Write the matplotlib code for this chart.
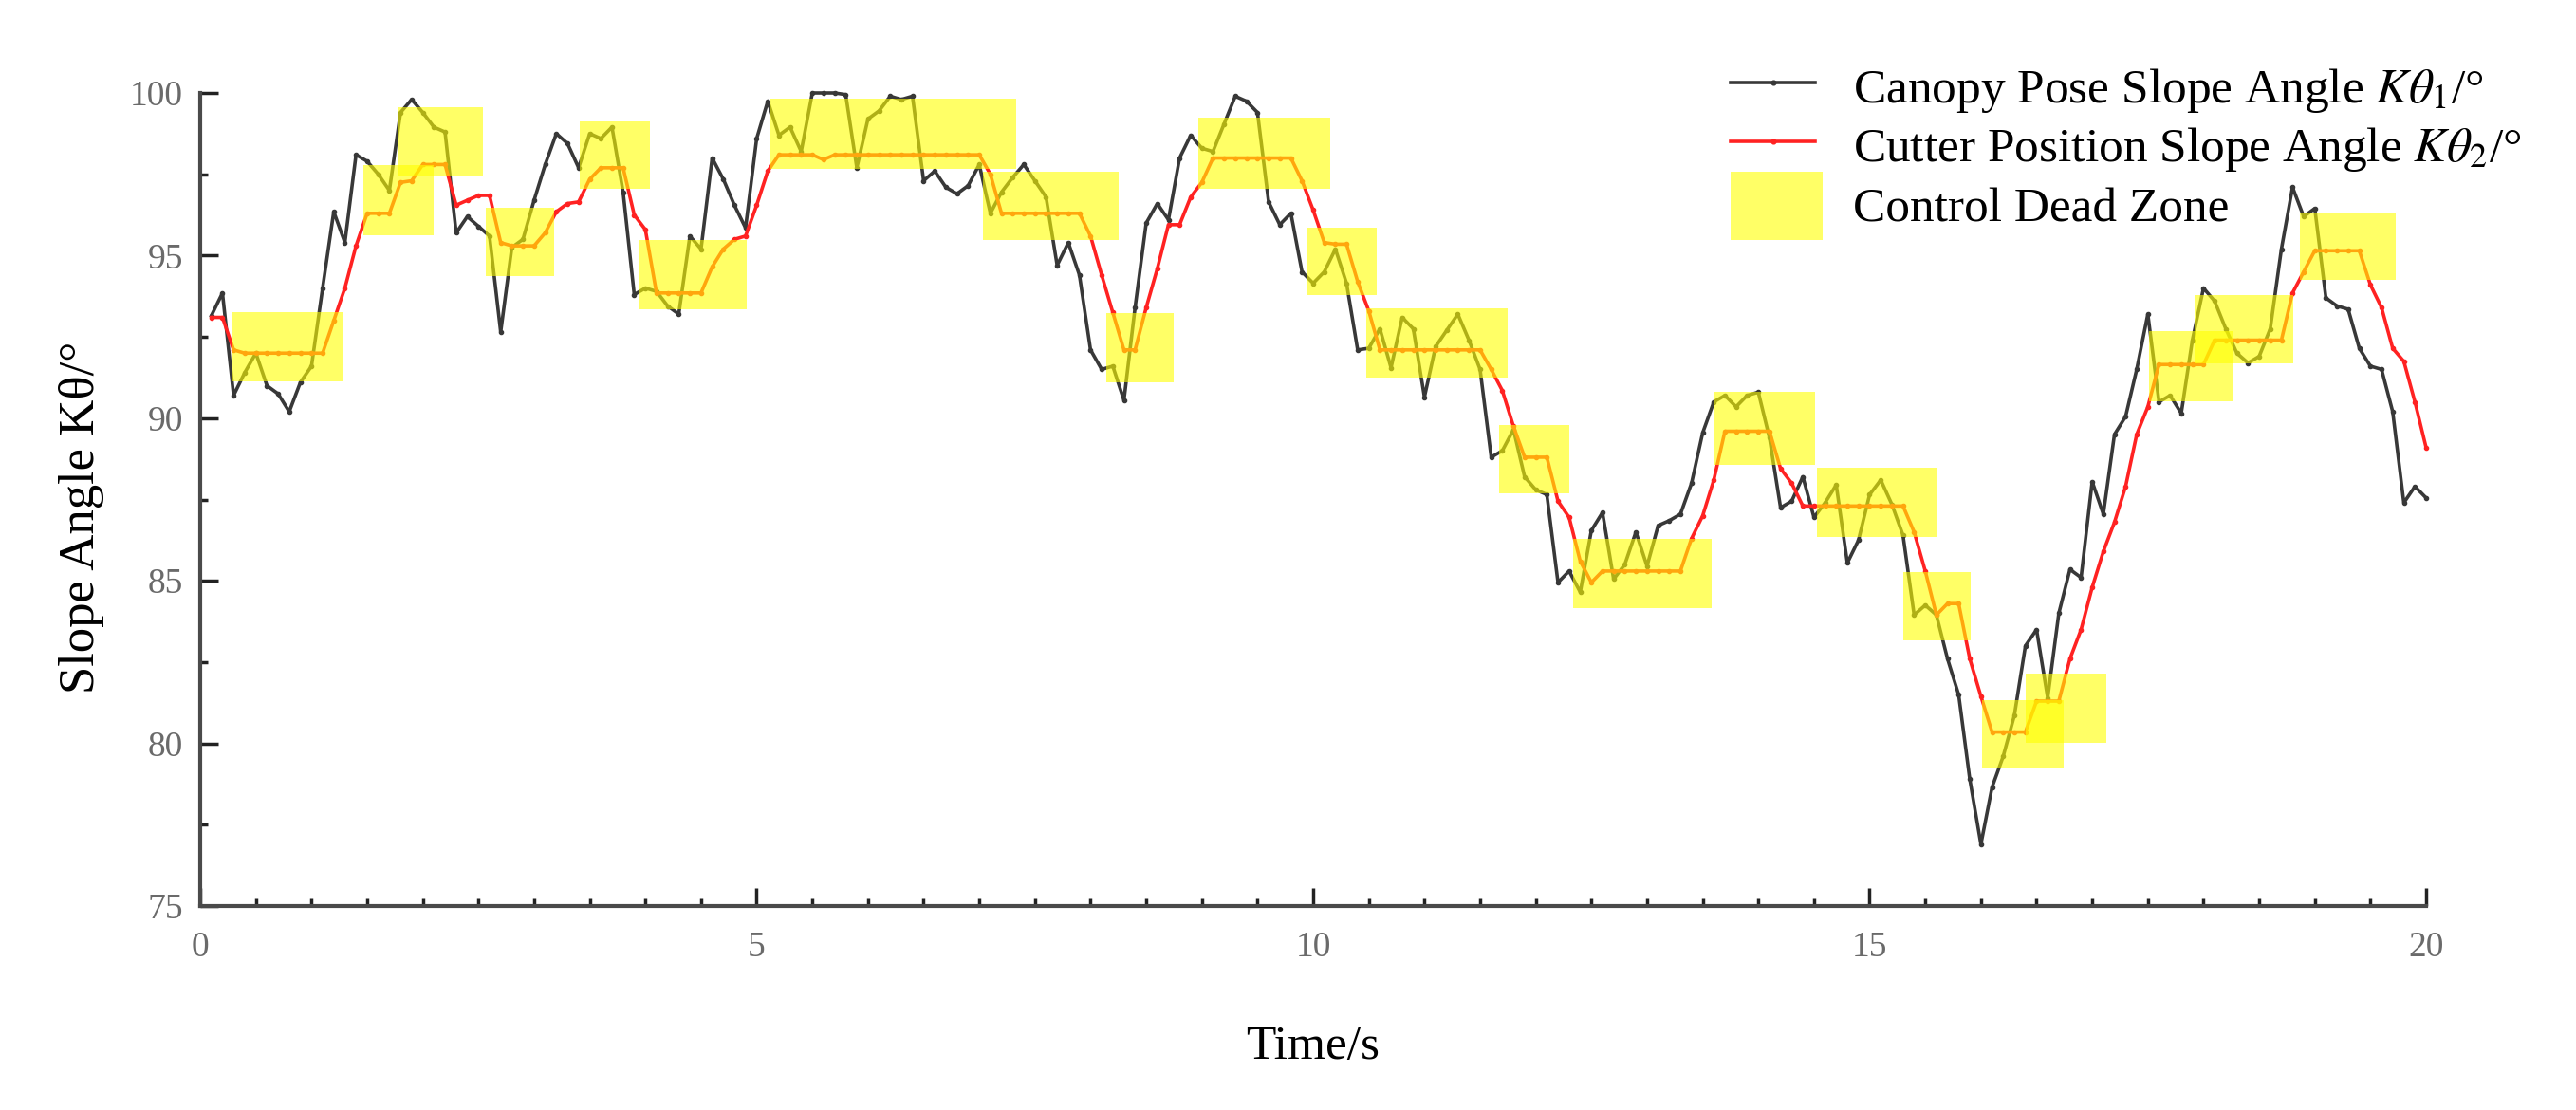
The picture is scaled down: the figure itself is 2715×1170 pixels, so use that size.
import numpy as np
import matplotlib
matplotlib.use('Agg')
from matplotlib import pyplot as plt
from matplotlib.ticker import MultipleLocator
from matplotlib.lines import Line2D
from matplotlib.patches import Rectangle

plt.rcParams['font.family'] = ['Liberation Serif', 'DejaVu Serif']
plt.rcParams['mathtext.fontset'] = 'stix'

# sampling every 0.1 s, from 0.1 s to 20 s
time = np.round(np.arange(1, 201) * 0.1, 1)

# canopy pose slope angle (black)
canopy = [
    93.15, 93.85, 90.7, 91.4, 92.0, 91.0, 90.75, 90.2, 91.1, 91.6,
    94.0, 96.35, 95.4, 98.1, 97.9, 97.5, 97.0, 99.4, 99.8, 99.4,
    98.95, 98.8, 95.7, 96.2, 95.9, 95.6, 92.65, 95.25, 95.5, 96.7,
    97.8, 98.75, 98.45, 97.7, 98.75, 98.6, 98.95, 96.95, 93.8, 94.0,
    93.9, 93.45, 93.2, 95.6, 95.2, 98.0, 97.35, 96.55, 95.85, 98.6,
    99.75, 98.7, 98.95, 98.2, 100.0, 100.0, 100.0, 99.95, 97.7, 99.2,
    99.45, 99.9, 99.8, 99.9, 97.3, 97.6, 97.1, 96.9, 97.15, 97.8,
    96.3, 96.95, 97.4, 97.8, 97.3, 96.8, 94.7, 95.4, 94.4, 92.1,
    91.5, 91.6, 90.55, 93.4, 96.0, 96.6, 96.1, 98.0, 98.7, 98.3,
    98.2, 99.05, 99.9, 99.75, 99.4, 96.65, 95.95, 96.3, 94.5, 94.15,
    94.5, 95.2, 94.15, 92.1, 92.15, 92.75, 91.55, 93.1, 92.75, 90.65,
    92.2, 92.7, 93.2, 92.4, 91.5, 88.8, 89.0, 89.65, 88.2, 87.8,
    87.65, 84.95, 85.3, 84.65, 86.55, 87.1, 85.05, 85.5, 86.5, 85.45,
    86.7, 86.85, 87.05, 88.0, 89.55, 90.5, 90.7, 90.35, 90.7, 90.8,
    89.4, 87.25, 87.45, 88.2, 86.95, 87.4, 87.95, 85.55, 86.25, 87.65,
    88.1, 87.35, 86.4, 83.95, 84.25, 83.95, 82.6, 81.5, 78.9, 76.9,
    78.65, 79.6, 80.85, 83.0, 83.5, 81.4, 84.0, 85.35, 85.1, 88.05,
    87.05, 89.5, 90.05, 91.5, 93.2, 90.5, 90.7, 90.15, 92.4, 94.0,
    93.6, 92.75, 92.0, 91.7, 91.9, 92.75, 95.2, 97.1, 96.2, 96.45,
    93.7, 93.45, 93.35, 92.15, 91.6, 91.5, 90.2, 87.4, 87.9, 87.55,
]

# cutter position slope angle (red)
cutter = [
    93.1, 93.1, 92.1, 92.0, 92.0, 92.0, 92.0, 92.0, 92.0, 92.0,
    92.0, 93.0, 94.0, 95.3, 96.3, 96.3, 96.3, 97.25, 97.3, 97.8,
    97.8, 97.8, 96.55, 96.7, 96.85, 96.85, 95.4, 95.3, 95.3, 95.3,
    95.7, 96.35, 96.6, 96.65, 97.35, 97.7, 97.7, 97.7, 96.25, 95.8,
    93.85, 93.85, 93.85, 93.85, 93.85, 94.65, 95.2, 95.5, 95.6, 96.55,
    97.6, 98.1, 98.1, 98.1, 98.1, 97.95, 98.1, 98.1, 98.1, 98.1,
    98.1, 98.1, 98.1, 98.1, 98.1, 98.1, 98.1, 98.1, 98.1, 98.1,
    97.5, 96.3, 96.3, 96.3, 96.3, 96.3, 96.3, 96.3, 96.3, 95.6,
    94.4, 93.25, 92.1, 92.1, 93.4, 94.6, 95.95, 95.95, 96.8, 97.25,
    98.0, 98.0, 98.0, 98.0, 98.0, 98.0, 98.0, 98.0, 97.3, 96.4,
    95.4, 95.35, 95.35, 94.2, 93.3, 92.1, 92.1, 92.1, 92.1, 92.1,
    92.1, 92.1, 92.1, 92.1, 92.1, 91.5, 90.85, 89.75, 88.8, 88.8,
    88.8, 87.45, 86.95, 85.6, 84.95, 85.3, 85.3, 85.3, 85.3, 85.3,
    85.3, 85.3, 85.3, 86.3, 87.0, 88.1, 89.6, 89.6, 89.6, 89.6,
    89.6, 88.45, 88.0, 87.3, 87.3, 87.3, 87.3, 87.3, 87.3, 87.3,
    87.3, 87.3, 87.3, 86.5, 85.3, 83.95, 84.3, 84.3, 82.6, 81.45,
    80.35, 80.35, 80.35, 80.35, 81.3, 81.3, 81.3, 82.6, 83.5, 84.8,
    85.9, 86.8, 87.9, 89.5, 90.35, 91.65, 91.65, 91.65, 91.65, 91.65,
    92.4, 92.4, 92.4, 92.4, 92.4, 92.4, 92.4, 93.85, 94.5, 95.15,
    95.15, 95.15, 95.15, 95.15, 94.1, 93.4, 92.15, 91.75, 90.5, 89.1,
]

# control dead zones: time start/end and angle low/high
zone_t0 = [0.29, 1.47, 1.77, 2.57, 3.41, 3.95, 5.12, 7.03, 8.14, 8.97, 9.95,
           10.48, 11.67, 12.34, 13.60, 14.53, 15.30, 16.01, 16.40, 17.51, 17.92, 18.87]
zone_t1 = [1.29, 2.10, 2.54, 3.18, 4.04, 4.91, 7.33, 8.25, 8.75, 10.15, 10.57,
           11.75, 12.30, 13.58, 14.51, 15.61, 15.91, 16.74, 17.13, 18.26, 18.81, 19.73]
zone_lo = [91.12, 95.63, 97.43, 94.37, 97.04, 93.34, 97.68, 95.49, 91.11, 97.04, 93.78,
           91.25, 87.70, 84.16, 88.57, 86.34, 83.17, 79.22, 80.03, 90.52, 91.70, 94.24]
zone_hi = [93.25, 97.77, 99.57, 96.46, 99.13, 95.49, 99.82, 97.58, 93.23, 99.23, 95.87,
           93.37, 89.79, 86.29, 90.81, 88.48, 85.27, 81.32, 82.15, 92.67, 93.78, 96.32]

label_canopy = r'Canopy Pose Slope Angle $K\theta_1$/°'
label_cutter = r'Cutter Position Slope Angle $K\theta_2$/°'
label_zone = 'Control Dead Zone'

W, H = 2715, 1170
fig = plt.figure(figsize=(W / 100, H / 100), dpi=100)
ax = fig.add_axes([211 / W, 1 - 955 / H, (2557 - 211) / W, (955 - 98) / H])

black = '#383838'
red = '#ff2222'
yellow = '#ffff00'

ax.plot(time, canopy, '-', color=black, lw=2.6, marker='o', ms=3, zorder=2, clip_on=False)
ax.plot(time, cutter, '-', color=red, lw=2.6, marker='o', ms=3, zorder=3, clip_on=False)
for t0, t1, lo, hi in zip(zone_t0, zone_t1, zone_lo, zone_hi):
    ax.add_patch(Rectangle((t0, lo), t1 - t0, hi - lo, facecolor=yellow,
                           edgecolor='none', alpha=0.6, zorder=4))

ax.set_xlim(0, 20)
ax.set_ylim(75, 100)
ax.xaxis.set_major_locator(MultipleLocator(5))
ax.xaxis.set_minor_locator(MultipleLocator(0.5))
ax.yaxis.set_major_locator(MultipleLocator(5))
ax.yaxis.set_minor_locator(MultipleLocator(2.5))
ax.tick_params(which='both', direction='in', width=2.5, color='#222222',
               labelcolor='#6a6a6a', labelsize=27)
ax.tick_params(which='major', length=14)
ax.tick_params(which='minor', length=6)
ax.tick_params(axis='x', pad=19)
ax.tick_params(axis='y', pad=13)
for s in ['top', 'right']:
    ax.spines[s].set_visible(False)
for s in ['left', 'bottom']:
    ax.spines[s].set_linewidth(3)
    ax.spines[s].set_color('#4a4a4a')

ax.set_xlabel('Time/s', fontsize=37)
ax.xaxis.set_label_coords(0.5, -0.146)
ax.set_ylabel('Slope Angle Kθ/°', fontsize=38)
ax.yaxis.set_label_coords(-0.043, 0.478)

# legend drawn by hand so the dead-zone swatch can be large
tf = fig.transFigure
x0, x1 = 1824 / W, 1913 / W
for yy, col in [(1 - 87 / H, black), (1 - 149 / H, red)]:
    fig.add_artist(Line2D([x0, (x0 + x1) / 2, x1], [yy, yy, yy], transform=tf, color=col,
                          lw=2.6, marker='o', ms=3.4, markevery=[1]))
fig.add_artist(Rectangle((1824 / W, 1 - 253 / H), 97 / W, 72 / H, transform=tf,
                         facecolor=yellow, edgecolor='none', alpha=0.6))
tx = 1953 / W
fig.text(tx, 1 - 108 / H, label_canopy, fontsize=37, va='baseline')
fig.text(tx, 1 - 170 / H, label_cutter, fontsize=37, va='baseline')
fig.text(tx, 1 - 233 / H, label_zone, fontsize=37, va='baseline')

fig.savefig('out.png', dpi=100)
